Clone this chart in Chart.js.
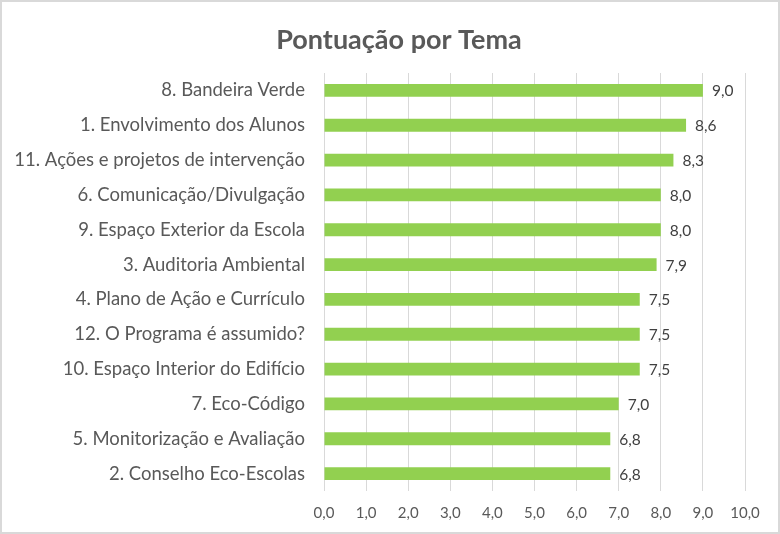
<!DOCTYPE html>
<html>
<head>
<meta charset="utf-8">
<script src="https://cdn.jsdelivr.net/npm/chart.js@4/dist/chart.umd.min.js"></script>
<style>
  html, body { margin: 0; padding: 0; background: #ffffff; }
  #wrap { width: 780px; height: 534px; position: relative; }
</style>
</head>
<body>
<div id="wrap"><canvas id="c" width="780" height="534"></canvas></div>
<script>
const chartTitle = "Pontuação por Tema";
const categories = [
  "8. Bandeira Verde",
  "1. Envolvimento dos Alunos",
  "11. Ações e projetos de intervenção",
  "6. Comunicação/Divulgação",
  "9. Espaço Exterior da Escola",
  "3. Auditoria Ambiental",
  "4. Plano de Ação e Currículo",
  "12. O Programa é assumido?",
  "10. Espaço Interior do Edifício",
  "7. Eco-Código",
  "5. Monitorização e Avaliação",
  "2. Conselho Eco-Escolas"
];
const scores = [9.0, 8.6, 8.3, 8.0, 8.0, 7.9, 7.5, 7.5, 7.5, 7.0, 6.8, 6.8];
const axisMin = 0;
const axisMax = 10;
const axisStep = 1;

const FONT = "Lato, 'Liberation Sans', sans-serif";
const fmt = v => Number(v).toFixed(1).replace('.', ',');

const frame = {
  id: 'frame',
  beforeDraw(chart) {
    const ctx = chart.ctx;
    ctx.save();
    ctx.fillStyle = '#ffffff';
    ctx.fillRect(0, 0, chart.width, chart.height);
    ctx.strokeStyle = '#d9d9d9';
    ctx.lineWidth = 2;
    ctx.strokeRect(1, 1, chart.width - 2, chart.height - 2);
    ctx.fillStyle = '#595959';
    ctx.font = "bold 27px " + FONT;
    ctx.textAlign = 'center';
    ctx.textBaseline = 'middle';
    ctx.fillText(chartTitle, 399, 40);
    ctx.restore();
  }
};

const valueLabels = {
  id: 'valueLabels',
  afterDatasetsDraw(chart) {
    const ctx = chart.ctx;
    ctx.save();
    ctx.font = "15.5px " + FONT;
    ctx.fillStyle = '#404040';
    ctx.textAlign = 'left';
    ctx.textBaseline = 'middle';
    chart.getDatasetMeta(0).data.forEach((bar, i) => {
      ctx.fillText(fmt(chart.data.datasets[0].data[i]), bar.x + 9, bar.y + 1);
    });
    ctx.restore();
  }
};

new Chart(document.getElementById('c'), {
  type: 'bar',
  data: {
    labels: categories,
    datasets: [{
      data: scores,
      backgroundColor: '#92d050',
      borderWidth: 0,
      categoryPercentage: 0.37,
      barPercentage: 1.0
    }]
  },
  options: {
    indexAxis: 'y',
    responsive: false,
    animation: false,
    devicePixelRatio: 1,
    layout: { padding: { left: 0, right: 35, top: 73, bottom: 0 } },
    plugins: {
      legend: { display: false },
      tooltip: { enabled: false },
      title: { display: false }
    },
    scales: {
      x: {
        min: axisMin,
        max: axisMax,
        afterFit: s => { s.height = 43; },
        ticks: {
          stepSize: axisStep,
          color: '#595959',
          font: { family: FONT, size: 15 },
          padding: 13,
          callback: v => fmt(v)
        },
        grid: { color: '#d9d9d9', drawTicks: false, lineWidth: 1 },
        border: { display: false }
      },
      y: {
        afterFit: s => { s.width = 324; },
        ticks: {
          color: '#595959',
          font: { family: FONT, size: 18.5 },
          padding: 11
        },
        grid: { display: false },
        border: { display: false }
      }
    }
  },
  plugins: [frame, valueLabels]
});
</script>
</body>
</html>
